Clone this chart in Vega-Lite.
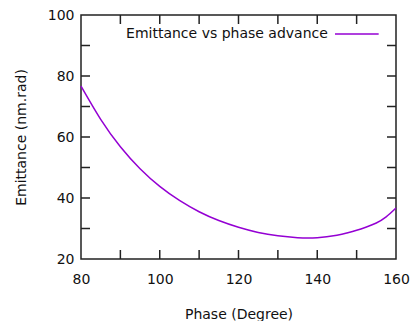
{
  "$schema": "https://vega.github.io/schema/vega-lite/v6.json",
  "width": 315,
  "height": 244,
  "autosize": {"type": "none"},
  "padding": {"left": 81, "top": 15, "right": 14, "bottom": 62},
  "background": "white",
  "config": {
    "view": {"stroke": "#222", "strokeWidth": 1.5},
    "font": "DejaVu Sans",
    "axis": {
      "grid": false,
      "domain": false,
      "ticks": true,
      "tickSize": 0,
      "labelOverlap": false,
      "labelFlush": false,
      "labelFont": "DejaVu Sans",
      "labelFontSize": 14,
      "labelColor": "#111",
      "titleFont": "DejaVu Sans",
      "titleFontSize": 14,
      "titleFontWeight": "normal",
      "titleColor": "#111"
    }
  },
  "datasets": {
    "curve": [
      {"phase": 80, "emit": 76.7},
      {"phase": 85, "emit": 65.8},
      {"phase": 90, "emit": 56.8},
      {"phase": 95, "emit": 49.6},
      {"phase": 100, "emit": 43.8},
      {"phase": 105, "emit": 39.2},
      {"phase": 110, "emit": 35.5},
      {"phase": 115, "emit": 32.6},
      {"phase": 120, "emit": 30.4},
      {"phase": 125, "emit": 28.7},
      {"phase": 130, "emit": 27.6},
      {"phase": 135, "emit": 27.0},
      {"phase": 140, "emit": 27.0},
      {"phase": 145, "emit": 27.8},
      {"phase": 147.5, "emit": 28.5},
      {"phase": 150, "emit": 29.4},
      {"phase": 152.5, "emit": 30.5},
      {"phase": 155, "emit": 31.8},
      {"phase": 157.5, "emit": 33.8},
      {"phase": 160, "emit": 36.7}
    ],
    "legend": [
      {"phase": 142.7, "emit": 93.8, "label": "Emittance vs phase advance", "x2": 155.6, "x1": 144.5}
    ],
    "xticks": [
      {"phase": 90}, {"phase": 100}, {"phase": 110}, {"phase": 120},
      {"phase": 130}, {"phase": 140}, {"phase": 150}
    ],
    "yticks": [
      {"emit": 30}, {"emit": 40}, {"emit": 50}, {"emit": 60},
      {"emit": 70}, {"emit": 80}, {"emit": 90}
    ]
  },
  "layer": [
    {
      "data": {"name": "curve"},
      "mark": {"type": "line", "color": "#9400d3", "strokeWidth": 1.5, "interpolate": "natural"},
      "encoding": {
        "x": {"field": "phase", "type": "quantitative", "title": "Phase (Degree)", "scale": {"domain": [80, 160], "nice": false},
              "axis": {"values": [80, 90, 100, 110, 120, 130, 140, 150, 160], "labelPadding": 13, "titlePadding": 21}},
        "y": {"field": "emit", "type": "quantitative", "title": "Emittance (nm.rad)", "scale": {"domain": [20, 100], "nice": false},
              "axis": {"values": [20, 30, 40, 50, 60, 70, 80, 90, 100], "labelPadding": 7, "titlePadding": 19}}
      }
    },
    {
      "data": {"name": "xticks"},
      "mark": {"type": "tick", "orient": "vertical", "size": 18, "thickness": 1.5, "color": "#222", "opacity": 1, "clip": true},
      "encoding": {
        "x": {"field": "phase", "type": "quantitative", "title": "Phase (Degree)",
              "axis": {"values": [80, 90, 100, 110, 120, 130, 140, 150, 160], "labelPadding": 13, "titlePadding": 21}},
        "y": {"datum": 20, "type": "quantitative"}
      }
    },
    {
      "data": {"name": "xticks"},
      "mark": {"type": "tick", "orient": "vertical", "size": 18, "thickness": 1.5, "color": "#222", "opacity": 1, "clip": true},
      "encoding": {
        "x": {"field": "phase", "type": "quantitative", "title": "Phase (Degree)",
              "axis": {"values": [80, 90, 100, 110, 120, 130, 140, 150, 160], "labelPadding": 13, "titlePadding": 21}},
        "y": {"datum": 100, "type": "quantitative"}
      }
    },
    {
      "data": {"name": "yticks"},
      "mark": {"type": "tick", "orient": "horizontal", "size": 18, "thickness": 1.5, "color": "#222", "opacity": 1, "clip": true},
      "encoding": {
        "y": {"field": "emit", "type": "quantitative", "title": "Emittance (nm.rad)",
              "axis": {"values": [20, 30, 40, 50, 60, 70, 80, 90, 100], "labelPadding": 7, "titlePadding": 19}},
        "x": {"datum": 80, "type": "quantitative"}
      }
    },
    {
      "data": {"name": "yticks"},
      "mark": {"type": "tick", "orient": "horizontal", "size": 18, "thickness": 1.5, "color": "#222", "opacity": 1, "clip": true},
      "encoding": {
        "y": {"field": "emit", "type": "quantitative", "title": "Emittance (nm.rad)",
              "axis": {"values": [20, 30, 40, 50, 60, 70, 80, 90, 100], "labelPadding": 7, "titlePadding": 19}},
        "x": {"datum": 160, "type": "quantitative"}
      }
    },
    {
      "data": {"name": "legend"},
      "mark": {"type": "text", "align": "right", "baseline": "middle", "fontSize": 14, "font": "DejaVu Sans", "color": "#111"},
      "encoding": {
        "x": {"field": "phase", "type": "quantitative", "title": "Phase (Degree)",
              "axis": {"values": [80, 90, 100, 110, 120, 130, 140, 150, 160], "labelPadding": 13, "titlePadding": 21}},
        "y": {"field": "emit", "type": "quantitative", "title": "Emittance (nm.rad)",
              "axis": {"values": [20, 30, 40, 50, 60, 70, 80, 90, 100], "labelPadding": 7, "titlePadding": 19}},
        "text": {"field": "label"}
      }
    },
    {
      "data": {"name": "legend"},
      "mark": {"type": "rule", "color": "#9400d3", "strokeWidth": 1.5},
      "encoding": {
        "x": {"field": "x1", "type": "quantitative", "title": "Phase (Degree)",
              "axis": {"values": [80, 90, 100, 110, 120, 130, 140, 150, 160], "labelPadding": 13, "titlePadding": 21}},
        "x2": {"field": "x2"},
        "y": {"field": "emit", "type": "quantitative", "title": "Emittance (nm.rad)",
              "axis": {"values": [20, 30, 40, 50, 60, 70, 80, 90, 100], "labelPadding": 7, "titlePadding": 19}}
      }
    }
  ]
}
